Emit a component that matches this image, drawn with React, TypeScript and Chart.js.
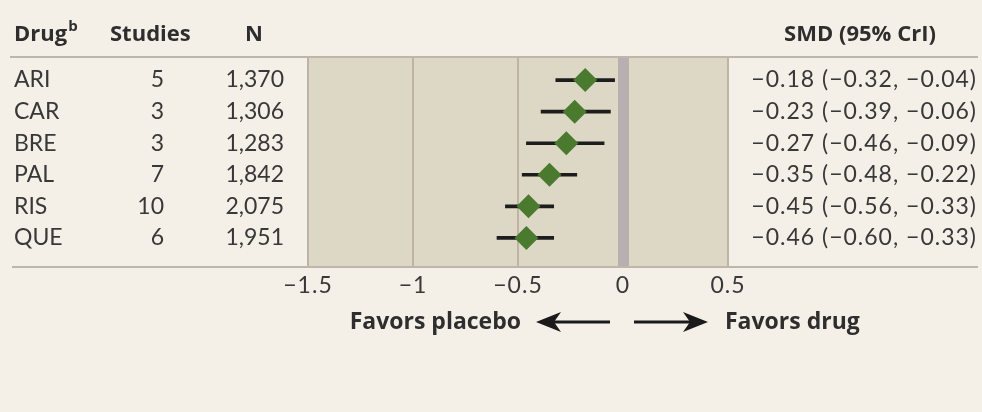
import React, { useEffect, useRef } from "react";
import { Chart, registerables } from "chart.js";

Chart.register(...registerables);

// Network meta-analysis results per drug
const drugs = ["ARI", "CAR", "BRE", "PAL", "RIS", "QUE"];
const studies = [5, 3, 3, 7, 10, 6];
const sampleSizes = ["1,370", "1,306", "1,283", "1,842", "2,075", "1,951"];
const smd = [-0.18, -0.23, -0.27, -0.35, -0.45, -0.46];
const lower = [-0.32, -0.39, -0.46, -0.48, -0.56, -0.6];
const upper = [-0.04, -0.06, -0.09, -0.22, -0.33, -0.33];
const xTicks = [-1.5, -1, -0.5, 0, 0.5];

const BODY_FONT = "Lato, 'Open Sans', sans-serif";
const HEAD_FONT = "'Open Sans', 'Noto Sans', sans-serif";
const TEXT = "#383838";
const PAGE_BG = "#f5f0e7";
const PLOT_BG = "#ddd7c6";
const RULE = "#bcb6ab";

const minus = (s: string) => s.replace(/-/g, "\u2212");
const fmt = (v: number) => minus(v.toFixed(2));

function drawArrow(ctx: CanvasRenderingContext2D, from: number, to: number, y: number) {
  const dir = Math.sign(to - from);
  const headLen = 25;
  const headHalf = 10;
  ctx.save();
  ctx.strokeStyle = "#1a1a1a";
  ctx.fillStyle = "#1a1a1a";
  ctx.lineWidth = 3;
  ctx.beginPath();
  ctx.moveTo(from, y);
  ctx.lineTo(to - dir * headLen * 0.6, y);
  ctx.stroke();
  ctx.beginPath();
  ctx.moveTo(to, y);
  ctx.lineTo(to - dir * headLen, y - headHalf);
  ctx.lineTo(to - dir * headLen * 0.72, y);
  ctx.lineTo(to - dir * headLen, y + headHalf);
  ctx.closePath();
  ctx.fill();
  ctx.restore();
}

const tablePlugin = {
  id: "forestTable",
  beforeDraw(chart: any) {
    const { ctx, chartArea: a, width, height } = chart;
    ctx.save();
    ctx.fillStyle = PAGE_BG;
    ctx.fillRect(0, 0, width, height);
    ctx.fillStyle = PLOT_BG;
    ctx.fillRect(a.left, a.top, a.right - a.left, a.bottom - a.top);
    ctx.restore();
    // slightly looser tracking for the axis tick labels
    (ctx as any).letterSpacing = "1px";
  },
  afterDraw(chart: any) {
    const { ctx, chartArea: a, scales } = chart;
    const y = scales.y;
    ctx.save();
    (ctx as any).letterSpacing = "0px";

    // table rules
    ctx.strokeStyle = RULE;
    ctx.lineWidth = 2;
    ctx.beginPath();
    ctx.moveTo(10, a.top);
    ctx.lineTo(978, a.top);
    ctx.moveTo(12, a.bottom);
    ctx.lineTo(978, a.bottom);
    ctx.stroke();

    // header
    ctx.fillStyle = "#2e2e2e";
    ctx.textBaseline = "alphabetic";
    ctx.font = `700 22px ${HEAD_FONT}`;
    ctx.textAlign = "left";
    ctx.fillText("Drug", 14, 41);
    const dw = ctx.measureText("Drug").width;
    ctx.font = `700 15px ${HEAD_FONT}`;
    ctx.fillText("b", 14 + dw + 1, 31);
    ctx.font = `700 22px ${HEAD_FONT}`;
    ctx.fillText("Studies", 110, 41);
    ctx.textAlign = "center";
    ctx.fillText("N", 254, 41);
    ctx.fillText("SMD (95% CrI)", 860, 41);

    // rows
    ctx.fillStyle = TEXT;
    ctx.font = `400 23px ${BODY_FONT}`;
    ctx.textBaseline = "middle";
    drugs.forEach((d, i) => {
      const py = y.getPixelForValue(i);
      ctx.textAlign = "left";
      (ctx as any).letterSpacing = "0px";
      ctx.fillText(d, 14, py);
      ctx.textAlign = "right";
      ctx.fillText(String(studies[i]), 164, py);
      ctx.fillText(sampleSizes[i], 284, py);
      (ctx as any).letterSpacing = "1px";
      ctx.fillText(`${fmt(smd[i])} (${fmt(lower[i])}, ${fmt(upper[i])})`, 977, py);
    });
    (ctx as any).letterSpacing = "0px";

    // direction labels
    const ay = 322;
    ctx.fillStyle = "#2e2e2e";
    ctx.font = `700 23px ${HEAD_FONT}`;
    ctx.textAlign = "right";
    ctx.fillText("Favors placebo", 521, ay);
    ctx.textAlign = "left";
    ctx.fillText("Favors drug", 725, ay);
    drawArrow(ctx, 610, 536, ay);
    drawArrow(ctx, 634, 708, ay);

    ctx.restore();
  },
};

export default function App() {
  const canvasRef = useRef<HTMLCanvasElement | null>(null);

  useEffect(() => {
    document.body.style.margin = "0";
    const canvas = canvasRef.current;
    if (!canvas) return;
    const chart = new Chart(canvas, {
      type: "scatter",
      data: {
        datasets: [
          {
            type: "scatter",
            label: "SMD",
            data: smd.map((v, i) => ({ x: v, y: i })),
            pointStyle: "rectRot",
            pointRadius: 12,
            pointHoverRadius: 12,
            backgroundColor: "#4a7a2e",
            borderWidth: 0,
            order: 1,
          } as any,
          {
            type: "bar",
            label: "95% CrI",
            indexAxis: "y",
            data: lower.map((lo, i) => ({ x: [lo, upper[i]], y: i })),
            barThickness: 3,
            backgroundColor: "#1d1d1d",
            borderWidth: 0,
            order: 2,
          } as any,
        ],
      },
      options: {
        responsive: false,
        animation: false,
        devicePixelRatio: 1,
        events: [],
        layout: { padding: { left: 308, right: 254, top: 57, bottom: 0 } },
        plugins: { legend: { display: false }, tooltip: { enabled: false } },
        scales: {
          x: {
            type: "linear",
            min: -1.5,
            max: 0.5,
            offset: false,
            afterBuildTicks: (axis: any) => {
              axis.ticks = xTicks.map((v) => ({ value: v }));
            },
            afterFit: (axis: any) => {
              axis.height = 145;
            },
            border: { display: false },
            grid: {
              offset: false,
              drawTicks: false,
              color: (c: any) => (c.tick && c.tick.value === 0 ? "#b7afb0" : "#bbb4a7"),
              lineWidth: (c: any) => (c.tick && c.tick.value === 0 ? 11 : 2),
            },
            ticks: {
              padding: 5,
              color: TEXT,
              font: { family: BODY_FONT, size: 23 },
              callback: (v: any) => (Number(v) === 0 ? "0" : minus(String(v))),
            },
          },
          y: {
            type: "linear",
            reverse: true,
            offset: false,
            min: -0.73,
            max: 5.92,
            display: false,
            grid: { offset: false },
          },
        },
      },
      plugins: [tablePlugin],
    });
    return () => chart.destroy();
  }, []);

  return (
    <div style={{ width: 982, height: 412 }}>
      <canvas ref={canvasRef} width={982} height={412} style={{ display: "block" }} />
    </div>
  );
}
